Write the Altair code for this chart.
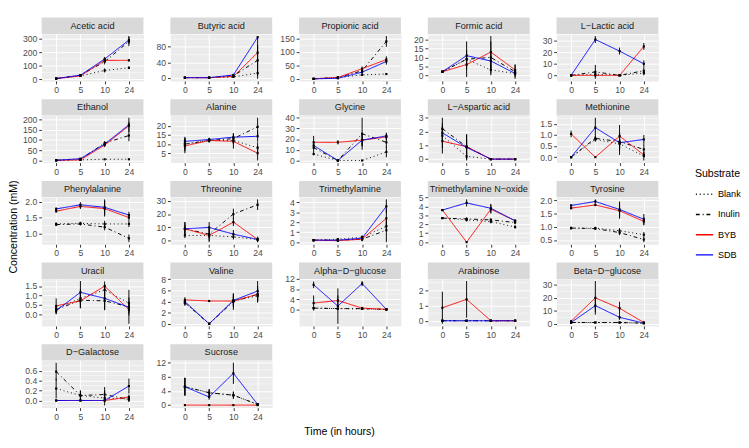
import altair as alt
import pandas as pd

FONT = "Liberation Sans"
TIMES = ["0", "5", "10", "24"]
SUBSTRATES = ["Blank", "Inulin", "BYB", "SDB"]
COLORS = ["black", "black", "#FF0000", "#0000FF"]
DASHES = [[1, 3], [4, 3, 1, 3], [1, 0], [1, 0]]

# means per substrate [Blank, Inulin, BYB, SDB] x time [0, 5, 10, 24]
acetic_mean = [[5, 25, 65, 85], [5, 30, 130, 280], [5, 25, 140, 140], [5, 30, 150, 290]]
acetic_sd = [[2, 5, 15, 10], [2, 8, 20, 35], [2, 5, 15, 8], [2, 8, 15, 30]]
butyric_mean = [[0, 0, 2, 12], [0, 0, 5, 45], [0, 0, 3, 65], [0, 0, 7, 105]]
butyric_sd = [[0, 0, 1, 15], [0, 0, 2, 40], [0, 0, 2, 40], [0, 0, 2, 3]]
propionic_mean = [[0, 5, 15, 18], [0, 5, 30, 140], [0, 5, 38, 72], [0, 2, 25, 65]]
propionic_sd = [[0, 2, 3, 3], [0, 3, 8, 20], [0, 3, 8, 12], [0, 2, 8, 12]]
formic_mean = [[2, 9, 3, 1], [2, 9, 10, 2], [2, 6, 13, 3], [2, 11, 8, 1]]
formic_sd = [[0.3, 3, 3, 1], [0.3, 10, 9, 4], [0.3, 3, 9, 3], [0.3, 3, 5, 2]]
lactic_mean = [[0, 1, 0, 2], [0, 3, 0, 4], [0, 0, 0, 25], [0, 31, 21, 10]]
lactic_sd = [[0, 2, 0, 2], [0, 6, 0, 3], [0, 0, 0, 3], [0, 3, 3, 3]]
ethanol_mean = [[0, 2, 5, 5], [0, 5, 85, 122], [0, 2, 75, 170], [0, 8, 80, 175]]
ethanol_sd = [[1, 1, 1, 1], [1, 2, 10, 28], [1, 2, 10, 20], [1, 3, 10, 35]]
alanine_mean = [[10, 12, 12, 8], [10, 12, 13, 19.5], [9, 12, 11.5, 5], [11.5, 12.5, 13.8, 14.3]]
alanine_sd = [[3, 1, 2, 3], [4, 1, 3, 5], [4, 1, 4, 4], [2, 1, 2, 3]]
glycine_mean = [[6, 0, 0, 8], [12, 0, 25, 17], [17, 17, 19, 22], [14, 0, 19, 23]]
glycine_sd = [[1, 0, 0, 5], [5, 0, 15, 5], [6, 2, 6, 3], [3, 0, 5, 3]]
aspartic_mean = [[1.7, 0.2, 0, 0], [2.2, 0.9, 0, 0], [1.3, 0.9, 0, 0], [1.9, 0.85, 0, 0]]
aspartic_sd = [[0.9, 0.3, 0, 0], [0.8, 0.9, 0, 0], [0.9, 0.9, 0, 0], [0.5, 0.5, 0, 0]]
methionine_mean = [[0, 0.8, 0.6, 0.05], [0, 0.85, 0.7, 0.35], [1.05, 0, 0.95, 0.1], [0, 1.33, 0.65, 0.8]]
methionine_sd = [[0, 0.1, 0.5, 0.2], [0, 0.1, 0.4, 0.25], [0.15, 0, 0.5, 0.1], [0, 0.45, 0.3, 0.2]]
phenyl_mean = [[1.3, 1.32, 1.3, 1.3], [1.28, 1.3, 1.2, 0.85], [1.7, 1.85, 1.78, 1.5], [1.77, 1.9, 1.82, 1.58]]
phenyl_sd = [[0.05, 0.05, 0.1, 0.1], [0.05, 0.05, 0.1, 0.12], [0.05, 0.08, 0.25, 0.1], [0.05, 0.08, 0.25, 0.1]]
threonine_mean = [[4, 4, 3, 1], [9, 5, 20, 27], [9, 4, 14, 1], [9, 10, 5, 1]]
threonine_sd = [[2, 2, 2, 1], [5, 5, 4, 4], [5, 5, 3, 2], [3, 4, 3, 2]]
tma_mean = [[0.2, 0.3, 0.5, 1.6], [0.2, 0.2, 0.3, 1.2], [0.2, 0.15, 0.3, 2.4], [0.2, 0.2, 0.4, 3.6]]
tma_sd = [[0.1, 0.1, 0.2, 0.5], [0.1, 0.1, 0.2, 1.2], [0.1, 0.1, 0.2, 1.0], [0.1, 0.1, 0.2, 0.7]]
tmao_mean = [[2.7, 2.5, 2.3, 1.7], [2.7, 2.6, 2.5, 2.2], [3.6, 0, 3.7, 2.4], [3.6, 4.4, 3.8, 2.4]]
tmao_sd = [[0.1, 0.2, 0.2, 0.2], [0.1, 0.2, 0.2, 0.2], [0.1, 0, 0.5, 0.1], [0.1, 0.4, 0.5, 0.1]]
tyrosine_mean = [[0.95, 0.95, 0.85, 0.7], [0.95, 0.93, 0.78, 0.52], [1.7, 1.82, 1.6, 1.2], [1.8, 1.95, 1.65, 1.28]]
tyrosine_sd = [[0.05, 0.05, 0.1, 0.1], [0.05, 0.05, 0.1, 0.1], [0.05, 0.05, 0.3, 0.15], [0.05, 0.08, 0.3, 0.2]]
uracil_mean = [[0.3, 0.85, 1.3, 0.6], [0.25, 0.75, 0.72, 0.4], [0.45, 0.72, 1.5, 0.25], [0.2, 1.17, 0.85, 0.38]]
uracil_sd = [[0.2, 0.5, 0.3, 0.3], [0.2, 0.4, 0.5, 0.9], [0.4, 0.4, 0.25, 0.3], [0.2, 0.6, 0.6, 0.3]]
valine_mean = [[3.8, 0, 4.2, 5.0], [3.8, 0, 4.0, 5.3], [4.3, 4.1, 4.1, 5.3], [4.0, 0, 4.2, 5.9]]
valine_sd = [[0.5, 0, 1, 1], [0.5, 0, 1.5, 1.5], [0.5, 0.1, 1, 1], [0.5, 0, 1.2, 1.8]]
alpha_mean = [[0.5, 0.3, 0.2, 0], [0.5, 0.3, 0.3, 0], [2.5, 3.5, 0.5, 0], [9.7, 1.3, 10.2, 0]]
alpha_sd = [[0.3, 0.3, 0.3, 0], [0.3, 0.3, 0.3, 0], [3, 2, 0.5, 0], [1.3, 7, 1, 0]]
arabinose_mean = [[0, 0, 0, 0], [0, 0, 0, 0], [0.85, 1.4, 0, 0], [0, 0, 0, 0]]
arabinose_sd = [[0, 0, 0, 0], [0, 0, 0, 0], [1.05, 1.2, 0, 0], [0, 0, 0, 0]]
beta_mean = [[1, 1, 1, 0.5], [1, 1, 1, 0.5], [2, 20, 12, 1], [1, 14, 5, 0.5]]
beta_sd = [[0.5, 0.5, 0.5, 0.3], [0.5, 0.5, 0.5, 0.3], [1, 13, 5, 1], [1, 5, 2, 0.5]]
galactose_mean = [[0.24, 0.1, 0.05, 0.03], [0.58, 0.1, 0.12, 0.02], [0, 0, 0, 0.07], [0, 0, 0, 0.29]]
galactose_sd = [[0.2, 0.1, 0.15, 0.05], [0.18, 0.1, 0.15, 0.05], [0, 0, 0, 0.05], [0, 0, 0, 0.15]]
sucrose_mean = [[5.2, 3.5, 2.8, 0.2], [5.2, 3.5, 2.8, 0.2], [0, 0, 0, 0], [5.2, 2.3, 9, 0.2]]
sucrose_sd = [[2.5, 1, 1, 0.3], [2.5, 1, 1, 0.3], [0, 0, 0, 0], [2.5, 0.8, 3, 0.3]]

PANELS = [
    ("Acetic acid", acetic_mean, acetic_sd, [0, 100, 200, 300], "d"),
    ("Butyric acid", butyric_mean, butyric_sd, [0, 40, 80], "d"),
    ("Propionic acid", propionic_mean, propionic_sd, [0, 50, 100, 150], "d"),
    ("Formic acid", formic_mean, formic_sd, [0, 5, 10, 15, 20], "d"),
    ("L\u2212Lactic acid", lactic_mean, lactic_sd, [0, 10, 20, 30], "d"),
    ("Ethanol", ethanol_mean, ethanol_sd, [0, 50, 100, 150, 200], "d"),
    ("Alanine", alanine_mean, alanine_sd, [5, 10, 15, 20], "d"),
    ("Glycine", glycine_mean, glycine_sd, [0, 10, 20, 30, 40], "d"),
    ("L\u2212Aspartic acid", aspartic_mean, aspartic_sd, [0, 1, 2, 3], "d"),
    ("Methionine", methionine_mean, methionine_sd, [0, 0.5, 1.0, 1.5], ".1f"),
    ("Phenylalanine", phenyl_mean, phenyl_sd, [1.0, 1.5, 2.0], ".1f"),
    ("Threonine", threonine_mean, threonine_sd, [0, 10, 20, 30], "d"),
    ("Trimethylamine", tma_mean, tma_sd, [0, 1, 2, 3, 4], "d"),
    ("Trimethylamine N\u2212oxide", tmao_mean, tmao_sd, [0, 1, 2, 3, 4, 5], "d"),
    ("Tyrosine", tyrosine_mean, tyrosine_sd, [0.5, 1.0, 1.5, 2.0], ".1f"),
    ("Uracil", uracil_mean, uracil_sd, [0, 0.5, 1.0, 1.5], ".1f"),
    ("Valine", valine_mean, valine_sd, [0, 2, 4, 6, 8], "d"),
    ("Alpha\u2212D\u2212glucose", alpha_mean, alpha_sd, [0, 4, 8, 12], "d"),
    ("Arabinose", arabinose_mean, arabinose_sd, [0, 1, 2], "d"),
    ("Beta\u2212D\u2212glucose", beta_mean, beta_sd, [0, 10, 20, 30], "d"),
    ("D\u2212Galactose", galactose_mean, galactose_sd, [0, 0.2, 0.4, 0.6], ".1f"),
    ("Sucrose", sucrose_mean, sucrose_sd, [0, 4, 8, 12], "d"),
]

W, H = 106, 49
STRIP = 17

legend_def = alt.Legend(
    title="Substrate", orient="none", legendX=680, legendY=140,
    symbolType="stroke", symbolSize=320, symbolStrokeWidth=1.5,
    titleFontSize=11, titleFontWeight="normal", titleColor="black",
    labelFontSize=9.5, labelColor="black", rowPadding=6, titlePadding=6,
)


def make_panel(name, means, sds, ticks, fmt):
    rows = []
    for s, m, e in zip(SUBSTRATES, means, sds):
        for t, v, d in zip(TIMES, m, e):
            rows.append({"Time": t, "Substrate": s, "value": v, "lo": v - d, "hi": v + d})
    df = pd.DataFrame(rows)
    lo, hi = df["lo"].min(), df["hi"].max()
    pad = (hi - lo) * 0.05
    dom = [lo - pad, hi + pad]
    step = ticks[1] - ticks[0]
    minors = [(a + b) / 2 for a, b in zip(ticks[:-1], ticks[1:])]
    minors += [ticks[0] - step / 2, ticks[-1] + step / 2]
    minors = [m for m in minors if dom[0] <= m <= dom[1]]
    mdf = pd.DataFrame({"value": minors})

    def xdef():
        return alt.X("Time:O", sort=TIMES,
                     scale=alt.Scale(type="point", padding=0.6),
                     axis=alt.Axis(title=None, labelAngle=0, grid=True, domain=False))

    def ydef(field):
        return alt.Y(field, scale=alt.Scale(domain=dom, nice=False, zero=False),
                     axis=alt.Axis(title=None, values=ticks, format=fmt, grid=True,
                                   domain=False, minExtent=22, maxExtent=22,
                                   labelOverlap=False))

    minor = alt.Chart(mdf).mark_rule(color="white", strokeWidth=0.5).encode(y=ydef("value:Q"))
    lines = alt.Chart(df).mark_line(strokeWidth=1).encode(
        x=xdef(), y=ydef("value:Q"),
        color=alt.Color("Substrate:N", scale=alt.Scale(domain=SUBSTRATES, range=COLORS), legend=legend_def),
        strokeDash=alt.StrokeDash("Substrate:N", scale=alt.Scale(domain=SUBSTRATES, range=DASHES), legend=legend_def),
    )
    bars = alt.Chart(df).mark_rule(color="black", strokeWidth=1).encode(
        x=xdef(), y=ydef("lo:Q"), y2="hi:Q")
    pts = alt.Chart(df).mark_point(filled=True, color="black", shape="square", size=5, opacity=1).encode(
        x=xdef(), y=ydef("value:Q"))
    sdf = pd.DataFrame({"label": [name]})
    strip = alt.Chart(sdf).mark_rect(color="#D9D9D9").encode(
        x=alt.value(0), x2=alt.value(W), y=alt.value(-STRIP), y2=alt.value(0))
    label = alt.Chart(sdf).mark_text(fontSize=9.5, color="#1A1A1A", font=FONT).encode(
        text="label:N", x=alt.value(W / 2), y=alt.value(-STRIP / 2))
    return alt.layer(minor, lines, bars, pts, strip, label).properties(width=W, height=H)


panels = [make_panel(*p) for p in PANELS]

grid = alt.concat(*panels, columns=5, spacing={"row": 3, "column": 4}).resolve_scale(
    color="shared", strokeDash="shared"
).properties(
    title=alt.TitleParams("Time (in hours)", orient="bottom", anchor="middle",
                          fontSize=11, fontWeight="normal", color="black", offset=5)
)

chart = alt.vconcat(grid).properties(
    padding=0,
    title=alt.TitleParams("Concentration (mM)", orient="left", anchor="middle",
                          fontSize=11, fontWeight="normal", color="black", offset=1)
).configure(font=FONT).configure_view(
    fill="#EBEBEB", stroke="transparent"
).configure_axis(
    gridColor="white", gridWidth=1, tickColor="#333333", tickSize=3,
    labelColor="#4D4D4D", labelFontSize=9, labelPadding=2, labelFont=FONT
)

chart.save("out.html", embed_options={"renderer": "svg", "actions": False})
